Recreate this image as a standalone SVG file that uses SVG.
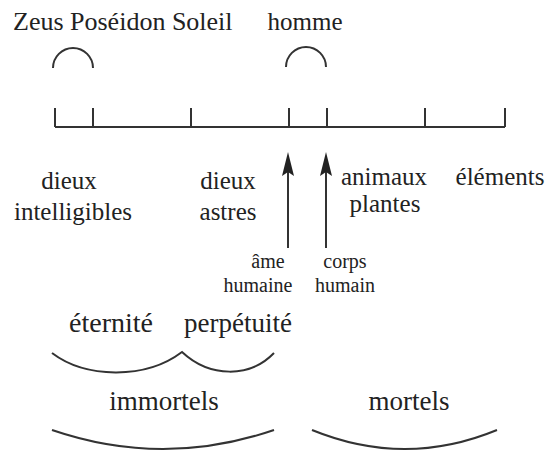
<svg xmlns="http://www.w3.org/2000/svg" width="550" height="451" viewBox="0 0 550 451">
<style>
.t{font-family:"Liberation Serif","DejaVu Serif","Times New Roman",serif;fill:#222;text-anchor:middle}
.m{font-size:25px}
.s{font-size:20px}
.b{font-size:27px}
.ln{stroke:#333;stroke-width:2;fill:none}
.ah{fill:#222;stroke:none}
</style>
<rect width="550" height="451" fill="#fff"/>
<g id="axis">
<path class="ln" d="M55,127 H505 M55,108 V127 M93,108 V127 M191,108 V127 M289,108 V127 M327,108 V127 M425,108 V127 M505,108 V127"/>
</g>
<g id="top-labels">
<text class="t m" x="13" y="30" style="text-anchor:start;font-size:26px">Zeus Poséidon Soleil</text>
<text class="t m" x="305" y="30">homme</text>
<path class="ln" d="M53,68 A20,20 0 0 1 93,68"/>
<path class="ln" d="M286,67 A20,20 0 0 1 326,67"/>
</g>
<g id="node-intelligibles">
<text class="t m" x="69" y="189">dieux</text>
<text class="t m" x="73" y="220">intelligibles</text>
</g>
<g id="node-astres">
<text class="t m" x="228" y="189">dieux</text>
<text class="t m" x="228" y="220">astres</text>
</g>
<g id="node-animaux">
<text class="t m" x="384" y="185">animaux</text>
<text class="t m" x="385" y="212">plantes</text>
</g>
<g id="node-elements">
<text class="t m" x="500" y="185">éléments</text>
</g>
<g id="node-ame">
<text class="t s" x="268" y="268">âme</text>
<text class="t s" x="258" y="292">humaine</text>
</g>
<g id="node-corps">
<text class="t s" x="345" y="268">corps</text>
<text class="t s" x="345" y="292">humain</text>
</g>
<g id="connectors">
<line class="ln" x1="288" y1="248" x2="288" y2="168"/>
<path class="ah" d="M288,152 L294,176 L288,172 L282,176 Z"/>
<line class="ln" x1="326" y1="248" x2="326" y2="168"/>
<path class="ah" d="M326,152 L332,176 L326,172 L320,176 Z"/>
</g>
<g id="bottom">
<text class="t b" x="111" y="332" style="font-size:28px">éternité</text>
<text class="t b" x="238" y="332">perpétuité</text>
<path class="ln" d="M52,353 C85,378 145,380 182,352 C210,378 250,378 274,353"/>
<text class="t b" x="164" y="410">immortels</text>
<text class="t b" x="409" y="410">mortels</text>
<path class="ln" d="M52,430 Q163,468 274,430"/>
<path class="ln" d="M312,430 Q405,468 497,430"/>
</g>
</svg>
